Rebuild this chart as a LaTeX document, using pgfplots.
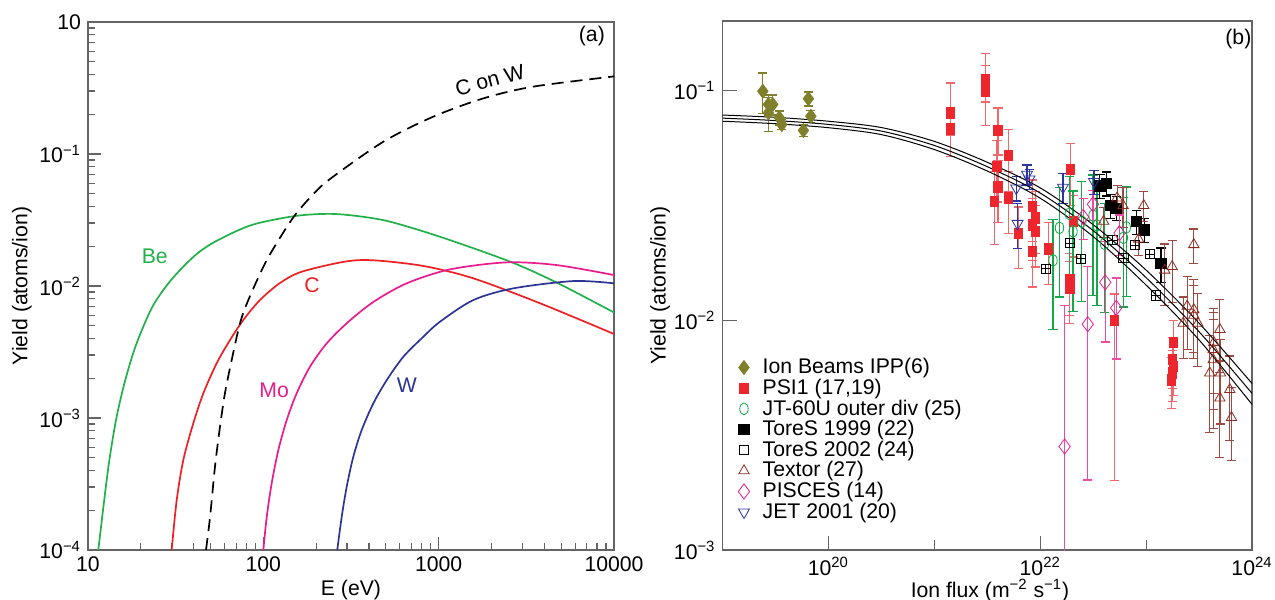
\documentclass[border=0pt]{standalone}
\usepackage{fontspec}
\setmainfont{Liberation Sans}
\usepackage{pgfplots}
\pgfplotsset{compat=1.18}
\usetikzlibrary{plotmarks}

\definecolor{beG}{RGB}{34,176,74}
\definecolor{cR}{RGB}{237,32,36}
\definecolor{moM}{RGB}{232,28,140}
\definecolor{wB}{RGB}{44,52,148}
\definecolor{ionO}{RGB}{128,128,44}
\definecolor{psiR}{RGB}{236,38,44}
\definecolor{jtG}{RGB}{20,168,72}
\definecolor{texB}{RGB}{140,42,32}
\definecolor{pisM}{RGB}{232,30,140}
\definecolor{jetB}{RGB}{44,52,160}
\definecolor{axgray}{RGB}{100,100,100}

\newcommand{\ff}{\fontsize{10.6}{12}\selectfont}

\pgfplotsset{
  base/.style={
    scale only axis,
    axis line style={axgray, line width=0.7pt},
    tick style={axgray, line width=0.6pt},
    tick align=inside, xtick pos=left, ytick pos=left,
    tick label style={font=\ff}, label style={font=\ff},
  },
  eb/.style={
    error bars/y dir=both,
    error bars/y explicit relative,
    error bars/error bar style={#1, line width=0.6pt},
    error bars/error mark options={rotate=90, mark size=2.3pt, #1, line width=0.6pt},
  },
}

\begin{document}
\begin{tikzpicture}
\useasboundingbox (-44pt,-25pt) rectangle (593.5pt,275pt);

% ---------------- (a) sputtering yields vs energy
\begin{loglogaxis}[base, at={(0pt,0pt)}, anchor=south west,
    width=263pt, height=264pt,
    xmin=10, xmax=10000, ymin=1e-4, ymax=1,
    xtick={10,100,1000,10000}, xticklabels={10,100,1000,10000},
    minor xtick={20,30,40,50,60,70,80,90,200,300,400,500,600,700,800,900,2000,3000,4000,5000,6000,7000,8000,9000},
    ytick={1e-4,1e-3,1e-2,1e-1,1},
    yticklabels={10\textsuperscript{−4},10\textsuperscript{−3},10\textsuperscript{−2},10\textsuperscript{−1},10},
    minor ytick={2e-4,3e-4,4e-4,5e-4,6e-4,7e-4,8e-4,9e-4,2e-3,3e-3,4e-3,5e-3,6e-3,7e-3,8e-3,9e-3,
                 2e-2,3e-2,4e-2,5e-2,6e-2,7e-2,8e-2,9e-2,0.2,0.3,0.4,0.5,0.6,0.7,0.8,0.9},
    major tick length=6.5pt, minor tick length=3.5pt,
    xlabel={E (eV)}, ylabel={Yield (atoms/ion)},
    xlabel style={at={(axis description cs:0.5,-0.076)}, anchor=center},
    ylabel style={at={(axis description cs:-0.1255,0.5)}, anchor=center},
]
\addplot[beG, line width=0.85pt, smooth] coordinates {
 (11.45,1e-4) (13.0,4.04e-4) (14.45,9.66e-4) (16.26,1.905e-3) (18.78,3.57e-3)
 (23.09,6.81e-3) (28.7,0.01045) (35.7,0.01442) (43.5,0.0183) (55.3,0.0223)
 (85.9,0.029) (151.7,0.0339) (240,0.0352) (355,0.0337) (528,0.0307)
 (1019,0.0236) (2553,0.0153) (4720,0.0106) (10000,0.0063)};
\addplot[cR, line width=0.85pt, smooth] coordinates {
 (30,1e-4) (32.06,2.39e-4) (34.97,4.81e-4) (39.87,9.12e-4) (45.5,1.54e-3)
 (54.2,2.6e-3) (64.6,3.9e-3) (76.9,5.53e-3) (95.7,7.83e-3) (124.5,0.01054)
 (165.5,0.01283) (292,0.0153) (424,0.01566) (819,0.01418) (1578,0.01143)
 (3786,7.4e-3) (10000,4.33e-3)};
\addplot[moM, line width=0.85pt, smooth] coordinates {
 (100,1e-4) (104.6,1.79e-4) (111.6,3.2e-4) (121.8,5.72e-4) (136,9.66e-4)
 (155,1.54e-3) (184.7,2.45e-3) (230,3.68e-3) (299,5.22e-3) (424,7.57e-3)
 (658,0.01048) (1162,0.01337) (2444,0.0151) (4720,0.0144) (10000,0.0121)};
\addplot[wB, line width=0.85pt, smooth] coordinates {
 (264,1e-4) (280,1.79e-4) (299,3.02e-4) (326,5.09e-4) (364,8.11e-4)
 (424,1.29e-3) (506,1.94e-3) (629,2.91e-3) (818,4.13e-3) (1019,5.37e-3)
 (1578,7.83e-3) (2667,9.6e-3) (5866,0.0109) (10000,0.01048)};
\addplot[black, line width=0.85pt, smooth, dash pattern=on 6pt off 3.5pt] coordinates {
 (47.1,1e-4) (49.7,1.79e-4) (53.0,4.28e-4) (56.6,8.59e-4) (60.4,1.54e-3)
 (66.0,2.75e-3) (73.6,5.22e-3) (82.1,7.83e-3) (102.3,0.01486) (124.5,0.0232)
 (151.7,0.0345) (195,0.0505) (245,0.066) (484,0.124) (933,0.192)
 (1800,0.264) (3470,0.324) (10000,0.387)};

\node[text=beG, font=\ff] at (rel axis cs:0.127,0.557) {Be};
\node[text=cR, font=\ff] at (rel axis cs:0.426,0.502) {C};
\node[text=moM, font=\ff] at (rel axis cs:0.354,0.303) {Mo};
\node[text=wB, font=\ff] at (rel axis cs:0.606,0.3125) {W};
\node[font=\ff, rotate=15] at (rel axis cs:0.764,0.89) {C on W};
\node[font=\ff, anchor=east] at (rel axis cs:0.996,0.973) {(a)};
\node[font=\fontsize{6}{7}\selectfont, rotate=90, anchor=north west, inner sep=1.5pt]
  at (rel axis cs:1,0) {JG05.468-1c};
\end{loglogaxis}

% ---------------- (b) yield vs ion flux
\begin{loglogaxis}[base, at={(317.25pt,0pt)}, anchor=south west,
    width=264.75pt, height=264.5pt,
    xmin=1e19, xmax=1e24, ymin=1e-3, ymax=0.2,
    xtick={1e20,1e22,1e24},
    xticklabels={10\textsuperscript{20},10\textsuperscript{22},10\textsuperscript{24}},
    minor xtick={1e21,1e23},
    ytick={1e-3,1e-2,1e-1},
    yticklabels={10\textsuperscript{−3},10\textsuperscript{−2},10\textsuperscript{−1}},
    yminorticks=false,
    major tick length=7pt, minor tick length=5pt,
    xlabel={Ion flux (m\textsuperscript{−2} s\textsuperscript{−1})},
    ylabel={Yield (atoms/ion)},
    xlabel style={at={(axis description cs:0.505,-0.077)}, anchor=center},
    ylabel style={at={(axis description cs:-0.118,0.5)}, anchor=center},
    legend style={at={(rel axis cs:0.029,0.365)}, anchor=north west,
      draw=none, fill=none, font=\ff, inner sep=0pt, row sep=0.15pt,
      nodes={inner sep=0.5pt},
      /tikz/every odd column/.append style={column sep=6pt}},
    legend cell align=left,
]
% Ion Beams IPP
\addplot[only marks, mark=diamond*, mark size=3.5pt, color=ionO, eb={ionO}] coordinates {
 (2.4e19,0.099) +- (0,0.2)
 (2.71e19,0.0867) +- (0,0.1)
 (2.98e19,0.0867) +- (0,0.1)
 (2.71e19,0.0797) +- (0,0.17)
 (3.44e19,0.0759) +- (0,0.07)
 (3.63e19,0.0709) +- (0,0.05)
 (5.8e19,0.0668) +- (0,0.06)
 (6.47e19,0.0918) +- (0,0.07)
 (6.82e19,0.0771) +- (0,0.06)};
% PSI1
\addplot[only marks, mark=square*, mark size=2.6pt, color=psiR, mark options={xscale=0.8}, eb={psiR!70}] coordinates {
 (1.41e21,0.0797) += (0,0.35) -= (0,0.2)
 (1.41e21,0.0679) += (0,0.2) -= (0,0.24)
 (3.03e21,0.111) += (0,0.3) -= (0,0.2)
 (3.03e21,0.0987) += (0,0.3) -= (0,0.29)
 (3.99e21,0.067) += (0,0.25) -= (0,0.22)
 (3.91e21,0.0466) +- (0,0.3)
 (3.99e21,0.038) +- (0,0.3)
 (3.71e21,0.0329) +- (0,0.35)
 (5.02e21,0.052) +- (0,0.3)
 (5.02e21,0.034) +- (0,0.3)
 (6.25e21,0.0239) +- (0,0.3)
 (8.41e21,0.0313) +- (0,0.3)
 (8.99e21,0.0278) +- (0,0.3)
 (8.41e21,0.026) +- (0,0.3)
 (8.99e21,0.0243) +- (0,0.3)
 (8.41e21,0.0199) +- (0,0.3)
 (1.2e22,0.0204) +- (0,0.3)
 (1.93e22,0.0452) +- (0,0.3)
 (2.06e22,0.0269) +- (0,0.3)
 (1.9e22,0.015) +- (0,0.3)
 (1.9e22,0.0138) +- (0,0.3)
 (5.05e22,0.01) += (0,0.3) -= (0,0.8)
 (1.81e23,0.008) +- (0,0.25)
 (1.78e23,0.00673) +- (0,0.25)
 (1.81e23,0.00629) +- (0,0.25)
 (1.78e23,0.00589) +- (0,0.25)
 (1.74e23,0.0055) +- (0,0.25)};
% JT-60U outer div
\addplot[only marks, mark=o, mark size=3pt, color=jtG, mark options={xscale=0.7}, eb={jtG}] coordinates {
 (1.32e22,0.0182) += (0,0.5) -= (0,0.5)
 (1.52e22,0.0252) += (0,0.5) -= (0,0.5)
 (1.88e22,0.029) += (0,0.45) -= (0,0.55)
 (2.04e22,0.0243) += (0,0.5) -= (0,0.55)
 (2.47e22,0.0268) += (0,0.5) -= (0,0.55)
 (3.15e22,0.0285) += (0,0.5) -= (0,0.55)
 (3.44e22,0.0258) += (0,0.5) -= (0,0.55)
 (4.04e22,0.0215) += (0,0.5) -= (0,0.5)
 (6.1e22,0.0228) += (0,0.5) -= (0,0.5)
 (6.5e22,0.0253) += (0,0.5) -= (0,0.5)};
% ToreS 1999
\addplot[only marks, mark=square*, mark size=2.6pt, color=black, eb={black}] coordinates {
 (3.66e22,0.0384) +- (0,0.12)
 (4.19e22,0.0394) +- (0,0.12)
 (4.57e22,0.0315) +- (0,0.12)
 (5.22e22,0.0307) +- (0,0.12)
 (8.1e22,0.0268) +- (0,0.12)
 (9.66e22,0.0247) +- (0,0.12)
 (1.38e23,0.0176) +- (0,0.17)};
% ToreS 2002
\addplot[only marks, mark=square, mark size=2.3pt, color=black] coordinates {
 (1.13e22,0.01675) (1.89e22,0.0216) (2.42e22,0.0185) (4.8e22,0.0223)
 (6.1e22,0.0186) (7.9e22,0.0212) (1.08e23,0.0194) (1.23e23,0.0128)};
\addplot[only marks, mark=+, mark size=2.3pt, color=black, forget plot] coordinates {
 (1.13e22,0.01675) (1.89e22,0.0216) (2.42e22,0.0185) (4.8e22,0.0223)
 (6.1e22,0.0186) (7.9e22,0.0212) (1.08e23,0.0194) (1.23e23,0.0128)};
% Textor
\addplot[only marks, mark=triangle, mark size=3pt, color=texB, eb={texB!85}] coordinates {
 (3.97e22,0.0269) +- (0,0.15)
 (5.32e22,0.034) +- (0,0.13)
 (6.06e22,0.0315) +- (0,0.2)
 (8.5e22,0.0225) +- (0,0.15)
 (9.5e22,0.0315) +- (0,0.15)
 (1.5e23,0.0165) +- (0,0.3)
 (1.76e23,0.0171) +- (0,0.3)
 (2.82e23,0.0213) +- (0,0.17)
 (2.24e23,0.0097) +- (0,0.3)
 (2.44e23,0.0115) +- (0,0.35)
 (2.82e23,0.0111) +- (0,0.35)
 (2.82e23,0.0105) +- (0,0.35)
 (3.08e23,0.0097) +- (0,0.35)
 (4.97e23,0.0091) +- (0,0.35)
 (4.36e23,0.0080) +- (0,0.4)
 (4.3e23,0.00745) +- (0,0.45)
 (4.3e23,0.00673) +- (0,0.5)
 (3.99e23,0.00589) +- (0,0.45)
 (5.04e23,0.00589) +- (0,0.4)
 (6.17e23,0.00499) +- (0,0.4)
 (4.97e23,0.00458) +- (0,0.45)
 (6.4e23,0.00377) +- (0,0.35)};
% PISCES
\addplot[only marks, mark=diamond, mark size=3.8pt, color=pisM, eb={pisM!80}] coordinates {
 (1.7e22,0.00282) += (0,3.1) -= (0,0.9)
 (2.54e22,0.0281) +- (0,0.2)
 (2.81e22,0.0096) += (0,0.78) -= (0,0.79)
 (3.15e22,0.0319) +- (0,0.15)
 (4.11e22,0.0146) += (0,0.5) -= (0,0.45)
 (5.22e22,0.0113) += (0,0.35) -= (0,0.4)
 (5.6e22,0.0239) +- (0,0.2)};
% JET 2001
\addplot[only marks, mark=triangle, mark size=3.2pt, color=jetB, mark options={rotate=180}, eb={jetB}] coordinates {
 (5.94e21,0.0375) +- (0,0.12)
 (6.11e21,0.0263) +- (0,0.22)
 (7.5e21,0.043) +- (0,0.1)
 (7.9e21,0.041) +- (0,0.1)
 (1.64e22,0.0378) +- (0,0.15)
 (3.22e22,0.0400) +- (0,0.12)};
% fit lines
\addplot[black, line width=0.5pt, smooth, forget plot] coordinates {
 (1e19,0.0780) (3.162e19,0.0762) (1e20,0.0733) (3.162e20,0.0688) (1e21,0.0599)
 (3.162e21,0.0486) (1e22,0.0376) (3.162e22,0.0260) (1e23,0.0165) (3.162e23,0.0097) (1e24,0.0053)};
\addplot[black, line width=0.5pt, smooth, forget plot] coordinates {
 (1e19,0.0756) (3.162e19,0.0738) (1e20,0.0710) (3.162e20,0.0664) (1e21,0.0575)
 (3.162e21,0.0465) (1e22,0.0357) (3.162e22,0.0245) (1e23,0.0153) (3.162e23,0.0089) (1e24,0.0048)};
\addplot[black, line width=0.5pt, smooth, forget plot] coordinates {
 (1e19,0.0733) (3.162e19,0.0715) (1e20,0.0687) (3.162e20,0.0641) (1e21,0.0552)
 (3.162e21,0.0445) (1e22,0.0339) (3.162e22,0.0231) (1e23,0.0142) (3.162e23,0.0082) (1e24,0.0043)};
\legend{Ion Beams IPP(6), PSI1 (17{,}19), JT-60U outer div (25), ToreS 1999 (22), ToreS 2002 (24), Textor (27), PISCES (14), JET 2001 (20)}

\node[font=\ff, anchor=east] at (rel axis cs:1.012,0.966) {(b)};
\node[font=\fontsize{6}{7}\selectfont, rotate=90, anchor=north west, inner sep=1.5pt]
  at (rel axis cs:1,-0.01) {JG05.468-1b};
\end{loglogaxis}
\end{tikzpicture}
\end{document}
